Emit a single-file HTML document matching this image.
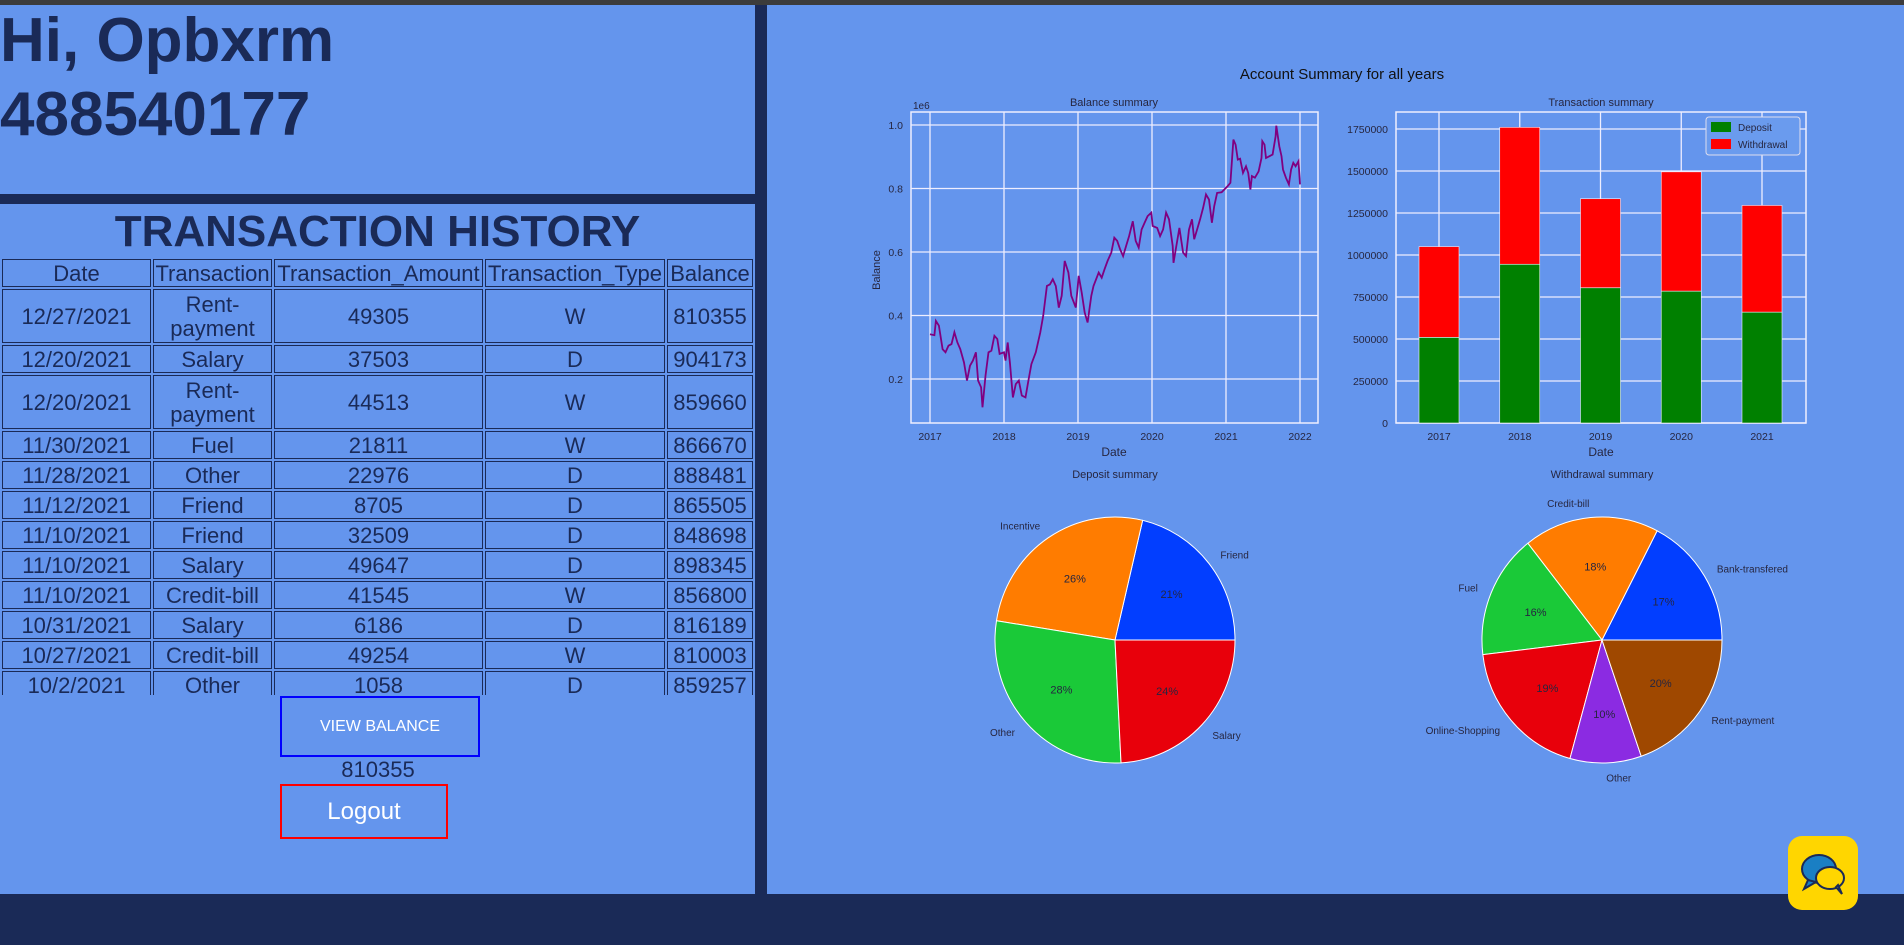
<!DOCTYPE html>
<html><head><meta charset="utf-8">
<style>
*{margin:0;padding:0;box-sizing:border-box}
body{width:1904px;height:945px;overflow:hidden;background:#6495ed;font-family:"Liberation Sans",sans-serif;position:relative}
#topbar{position:absolute;left:0;top:0;width:1904px;height:5px;background:#3c3c3c}
#bottom{position:absolute;left:0;top:894px;width:1904px;height:51px;background:#1a2a57}
#vdiv{position:absolute;left:755px;top:5px;width:12px;height:889px;background:#1a2a57}
#hdiv{position:absolute;left:0;top:194px;width:755px;height:10px;background:#1a2a57}
h1{position:absolute;left:0;top:4px;font-size:62px;line-height:74px;color:#1a2a57;font-weight:bold}
h2{position:absolute;left:0;top:204px;width:755px;text-align:center;font-size:44px;line-height:56px;color:#1a2a57;font-weight:bold}
#tbl{position:absolute;left:0;top:257px;width:755px;height:438px;overflow:hidden}
table{border-collapse:separate;border-spacing:2px;width:755px;color:#1a2a57;font-size:22px;table-layout:fixed}
td,th{border:1px solid #1a2a57;text-align:center;font-weight:normal;line-height:22px;padding:3px 0 1px 0;white-space:nowrap;overflow:hidden}
td.w{white-space:normal;line-height:24px}
#vb{position:absolute;left:280px;top:696px;width:200px;height:61px;border:2px solid #0000ff;color:#fff;font-size:16px;text-align:center;line-height:57px}
#bal{position:absolute;left:280px;top:757px;width:196px;text-align:center;font-size:22px;color:#1a2a57;line-height:26px}
#lo{position:absolute;left:280px;top:784px;width:168px;height:55px;border:2px solid #ff0000;color:#fff;font-size:24px;text-align:center;line-height:51px}
#chat{position:absolute;left:1788px;top:836px;width:70px;height:74px;background:#ffd600;border-radius:14px}
svg text{font-family:"Liberation Sans",sans-serif}
</style></head><body>
<div id="topbar"></div>
<h1>Hi, Opbxrm<br>488540177</h1>
<div id="hdiv"></div>
<div id="vdiv"></div>
<h2>TRANSACTION HISTORY</h2>
<div id="tbl">
<table>
<colgroup><col style="width:149px"><col style="width:119px"><col style="width:209px"><col style="width:180px"><col style="width:86px"></colgroup>
<tr><th>Date</th><th>Transaction</th><th>Transaction_Amount</th><th>Transaction_Type</th><th>Balance</th></tr>
<tr><td>12/27/2021</td><td class="w">Rent-<br>payment</td><td>49305</td><td>W</td><td>810355</td></tr>
<tr><td>12/20/2021</td><td>Salary</td><td>37503</td><td>D</td><td>904173</td></tr>
<tr><td>12/20/2021</td><td class="w">Rent-<br>payment</td><td>44513</td><td>W</td><td>859660</td></tr>
<tr><td>11/30/2021</td><td>Fuel</td><td>21811</td><td>W</td><td>866670</td></tr>
<tr><td>11/28/2021</td><td>Other</td><td>22976</td><td>D</td><td>888481</td></tr>
<tr><td>11/12/2021</td><td>Friend</td><td>8705</td><td>D</td><td>865505</td></tr>
<tr><td>11/10/2021</td><td>Friend</td><td>32509</td><td>D</td><td>848698</td></tr>
<tr><td>11/10/2021</td><td>Salary</td><td>49647</td><td>D</td><td>898345</td></tr>
<tr><td>11/10/2021</td><td>Credit-bill</td><td>41545</td><td>W</td><td>856800</td></tr>
<tr><td>10/31/2021</td><td>Salary</td><td>6186</td><td>D</td><td>816189</td></tr>
<tr><td>10/27/2021</td><td>Credit-bill</td><td>49254</td><td>W</td><td>810003</td></tr>
<tr><td>10/2/2021</td><td>Other</td><td>1058</td><td>D</td><td>859257</td></tr>
</table></div>
<div id="vb">VIEW BALANCE</div>
<div id="bal">810355</div>
<div id="lo">Logout</div>
<div id="bottom"></div>
<div id="chat">
<svg width="70" height="74" viewBox="0 0 70 74"><ellipse cx="31" cy="33" rx="17" ry="14" fill="#1a7fc4" stroke="#1a2a57" stroke-width="2"/><path d="M20 44 L16 53 L28 46Z" fill="#1a7fc4" stroke="#1a2a57" stroke-width="2"/><ellipse cx="42" cy="42" rx="14" ry="11" fill="#ffd600" stroke="#1a2a57" stroke-width="2"/><path d="M48 51 L54 58 L50 49Z" fill="#ffd600" stroke="#1a2a57" stroke-width="2"/></svg>
</div>
<svg id="charts" width="1904" height="945" style="position:absolute;left:0;top:0"></svg>
<script>
const balT=[0,.06,.08,.12,.17,.21,.25,.29,.33,.37,.41,.46,.50,.54,.58,.62,.65,.69,.71,.75,.79,.83,.87,.91,.94,1.00,1.02,1.05,1.08,1.12,1.16,1.20,1.24,1.29,1.33,1.37,1.43,1.49,1.53,1.58,1.62,1.66,1.70,1.74,1.78,1.82,1.87,1.91,1.97,2.01,2.05,2.09,2.13,2.18,2.21,2.28,2.32,2.36,2.40,2.45,2.49,2.53,2.57,2.61,2.65,2.69,2.74,2.78,2.82,2.86,2.90,2.94,2.99,3.01,3.07,3.11,3.15,3.19,3.23,3.28,3.29,3.34,3.37,3.42,3.46,3.50,3.54,3.57,3.61,3.65,3.69,3.73,3.77,3.81,3.84,3.88,3.94,4.02,4.06,4.10,4.13,4.16,4.19,4.23,4.27,4.30,4.33,4.35,4.39,4.44,4.48,4.49,4.52,4.54,4.59,4.63,4.67,4.68,4.72,4.75,4.77,4.81,4.85,4.88,4.91,4.94,4.98,5.00];
const balV=[.341,.338,.383,.368,.294,.284,.305,.310,.347,.315,.294,.252,.195,.242,.258,.284,.195,.174,.111,.210,.284,.289,.336,.326,.279,.284,.258,.315,.252,.142,.184,.195,.148,.142,.195,.247,.284,.347,.399,.493,.498,.514,.493,.425,.462,.572,.535,.462,.425,.525,.472,.409,.378,.462,.493,.535,.519,.546,.572,.598,.645,.635,.608,.587,.619,.650,.697,.635,.614,.671,.692,.713,.724,.682,.676,.650,.671,.724,.703,.619,.566,.635,.676,.598,.587,.671,.703,.640,.671,.703,.739,.781,.765,.692,.744,.786,.788,.807,.818,.954,.938,.891,.894,.849,.870,.849,.797,.839,.834,.854,.896,.949,.938,.896,.902,.907,.964,.998,.933,.902,.860,.834,.813,.860,.881,.870,.886,.813];
const balXTicks=["2017","2018","2019","2020","2021","2022"];
const balYTicks=[0.2,0.4,0.6,0.8,1.0];
const years=["2017","2018","2019","2020","2021"];
const deposits=[510000,945000,805000,785000,660000];
const withdrawals=[540000,815000,530000,710000,635000];
const barYTicks=[0,250000,500000,750000,1000000,1250000,1500000,1750000];
const depLabels=["Friend","Incentive","Other","Salary"];
const depValues=[21.3,26.2,28.3,24.2];
const wdLabels=["Bank-transfered","Credit-bill","Fuel","Online-Shopping","Other","Rent-payment"];
const wdValues=[17.4,18.2,16.3,18.8,9.6,19.7];
const palette=["#023eff","#ff7c00","#1ac938","#e8000b","#8b2be2","#9f4800"];

const svg=document.getElementById('charts');
const NS='http://www.w3.org/2000/svg';
function mk(tag,attrs,parent){const e=document.createElementNS(NS,tag);for(const k in attrs)e.setAttribute(k,attrs[k]);(parent||svg).appendChild(e);return e;}
function txt(x,y,s,size,anchor,parent,fill){const t=mk('text',{x:x,y:y,'font-size':size,'text-anchor':anchor||'middle',fill:fill||'#262640'},parent);t.textContent=s;return t;}
const title=txt(1342,79,"Account Summary for all years",15,'middle',null,'#111');



const L={x0:911,x1:1318,y0:423,y1:112};
const bx=t=>930+t*(1300-930)/5;
const by=v=>379-(v-0.2)*(379-125)/0.8;
const g1=mk('g',{});


balXTicks.forEach((s,i)=>{const x=bx(i);mk('line',{x1:x,x2:x,y1:L.y1,y2:L.y0,stroke:'#eef','stroke-width':1.3},g1);const t=txt(x,440,s,10.5,'middle',g1);});
balYTicks.forEach(v=>{const y=by(v);mk('line',{x1:L.x0,x2:L.x1,y1:y,y2:y,stroke:'#eef','stroke-width':1.3},g1);const t=txt(903,y+4,v.toFixed(1),10.5,'end',g1);});
mk('rect',{x:L.x0,y:L.y1,width:L.x1-L.x0,height:L.y0-L.y1,fill:'none',stroke:'#eef','stroke-width':1.5},g1);
txt(913,109,"1e6",10,'start',g1);
const bt=txt(1114,106,"Balance summary",11,'middle',g1);
const bxl=txt(1114,456,"Date",12,'middle',g1);
const byl=txt(0,0,"Balance",11,'middle',g1);byl.setAttribute('transform','translate(880,270) rotate(-90)');
const pl=mk('polyline',{points:balT.map((t,i)=>bx(t).toFixed(1)+','+by(balV[i]).toFixed(1)).join(' '),fill:'none',stroke:'#800080','stroke-width':1.8},g1);



const B={x0:1396,x1:1806,y0:423,y1:112};
const yv=v=>423-v*(423-129)/1750000;
const xc=i=>1439+i*80.75;
const g2=mk('g',{});


years.forEach((s,i)=>{const x=xc(i);mk('line',{x1:x,x2:x,y1:B.y1,y2:B.y0,stroke:'#eef','stroke-width':1.3},g2);const t=txt(x,440,s,10.5,'middle',g2);});
barYTicks.forEach(v=>{const y=yv(v);mk('line',{x1:B.x0,x2:B.x1,y1:y,y2:y,stroke:'#eef','stroke-width':1.3},g2);const t=txt(1388,y+4,String(v),10.5,'end',g2);});
mk('rect',{x:B.x0,y:B.y1,width:B.x1-B.x0,height:B.y0-B.y1,fill:'none',stroke:'#eef','stroke-width':1.5},g2);
years.forEach((s,i)=>{
 const d=mk('rect',{x:xc(i)-20,y:yv(deposits[i]),width:40,height:yv(0)-yv(deposits[i]),fill:'#008000',stroke:'#eef','stroke-width':0.6},g2);
 
 
 const w=mk('rect',{x:xc(i)-20,y:yv(deposits[i]+withdrawals[i]),width:40,height:yv(deposits[i])-yv(deposits[i]+withdrawals[i]),fill:'#ff0000',stroke:'#eef','stroke-width':0.6},g2);
 
 
});
const tt=txt(1601,106,"Transaction summary",11,'middle',g2);
const txl=txt(1601,456,"Date",12,'middle',g2);
const lg=mk('g',{},g2);


mk('rect',{x:1706,y:117,width:94,height:38,fill:'#6a9bee',stroke:'#dde',rx:3},lg);
mk('rect',{x:1711,y:122,width:20,height:10,fill:'#008000'},lg);
mk('rect',{x:1711,y:139,width:20,height:10,fill:'#ff0000'},lg);
txt(1738,131,"Deposit",10,'start',lg);
txt(1738,148,"Withdrawal",10,'start',lg);

function pie(cx,cy,rx,ry,labels,values,name,title){
 const g=mk('g',{});
 
 
 const t=txt(cx,478,title,11,'middle',g);
 
 
 const tot=values.reduce((a,b)=>a+b,0);
 let a0=0;
 values.forEach((v,i)=>{
  const a1=a0+v/tot*2*Math.PI;
  const p=(a)=>[cx+rx*Math.cos(a),cy-ry*Math.sin(a)];
  const s=p(a0),e=p(a1);
  const large=(a1-a0)>Math.PI?1:0;
  const sl=mk('path',{d:`M${cx},${cy} L${s[0]},${s[1]} A${rx},${ry} 0 ${large} 0 ${e[0]},${e[1]} Z`,fill:palette[i],stroke:'#fff','stroke-width':1},g);
  
  
  const m=(a0+a1)/2;
  const lx=cx+1.12*rx*Math.cos(m),ly=cy-1.12*ry*Math.sin(m);
  const lt=txt(lx,ly+4,labels[i],10,Math.cos(m)>=0?'start':'end',g);
  
  
  const pt=txt(cx+0.6*rx*Math.cos(m),cy-0.6*ry*Math.sin(m)+4,Math.round(v/tot*100)+'%',11,'middle',g);
  
  
  a0=a1;
 });
}
pie(1115,640,120,123,depLabels,depValues,'deposit-pie','Deposit summary');
pie(1602,640,120,123,wdLabels,wdValues,'withdrawal-pie','Withdrawal summary');
</script>
</body></html>
